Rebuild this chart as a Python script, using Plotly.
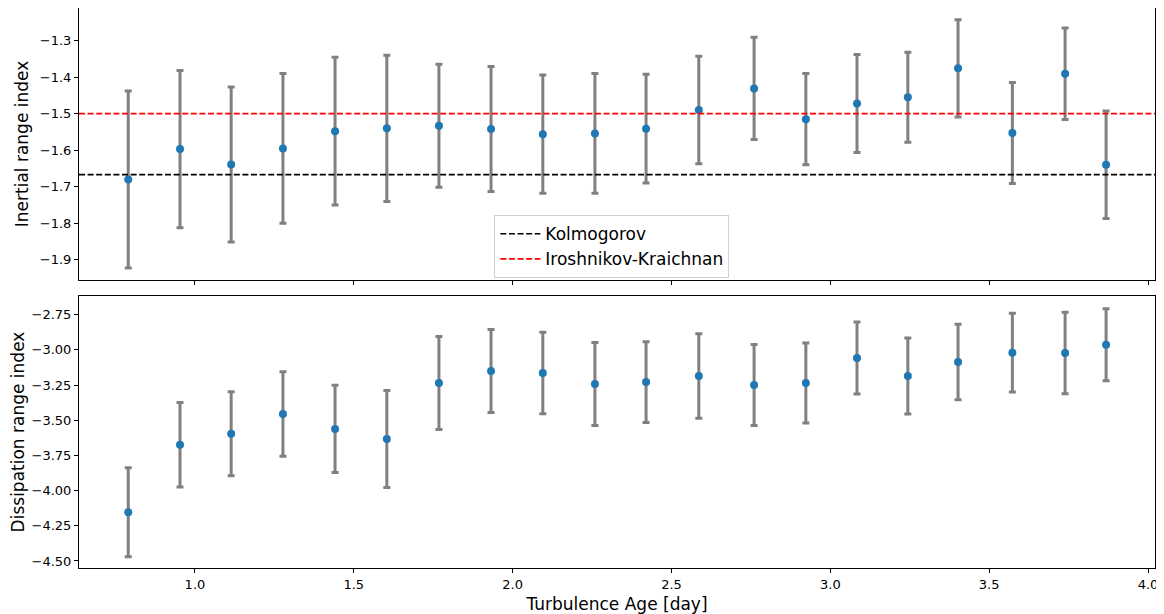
import plotly.graph_objects as go
from plotly.subplots import make_subplots

# Turbulence age [day]
age = [0.790, 0.953, 1.114, 1.277, 1.441, 1.604, 1.768, 1.932, 2.095, 2.259,
       2.420, 2.586, 2.760, 2.923, 3.084, 3.244, 3.402, 3.573, 3.739, 3.868]

# Inertial range spectral index and its uncertainty
inertial = [-1.680, -1.597, -1.639, -1.595, -1.548, -1.540, -1.533, -1.542, -1.556, -1.554,
            -1.541, -1.490, -1.431, -1.515, -1.472, -1.455, -1.376, -1.553, -1.391, -1.640]
inertial_err = [0.242, 0.215, 0.212, 0.205, 0.202, 0.200, 0.168, 0.171, 0.162, 0.164,
                0.149, 0.147, 0.140, 0.125, 0.134, 0.123, 0.133, 0.138, 0.125, 0.147]

# Dissipation range spectral index and its uncertainty
dissipation = [-4.154, -3.674, -3.596, -3.456, -3.562, -3.633, -3.235, -3.150, -3.164, -3.243,
               -3.229, -3.186, -3.250, -3.235, -3.058, -3.186, -3.086, -3.020, -3.022, -2.963]
dissipation_err = [0.316, 0.300, 0.298, 0.300, 0.310, 0.345, 0.330, 0.295, 0.290, 0.295,
                   0.287, 0.300, 0.288, 0.284, 0.256, 0.270, 0.268, 0.280, 0.290, 0.256]

# Reference spectral indices
kolmogorov = -5.0 / 3.0
iroshnikov_kraichnan = -1.5

x_ticks = [1.0, 1.5, 2.0, 2.5, 3.0, 3.5, 4.0]

FONT = "DejaVu Sans"
POINT_COLOR = "#1f77b4"
ERR_COLOR = "#808080"

fig = make_subplots(rows=2, cols=1, shared_xaxes=True)

fig.add_trace(go.Scatter(
    x=age, y=inertial, mode="markers",
    marker=dict(color=POINT_COLOR, size=8),
    error_y=dict(type="data", array=inertial_err, visible=True,
                 color=ERR_COLOR, thickness=3, width=3.5),
    showlegend=False), row=1, col=1)

fig.add_trace(go.Scatter(
    x=age, y=dissipation, mode="markers",
    marker=dict(color=POINT_COLOR, size=8),
    error_y=dict(type="data", array=dissipation_err, visible=True,
                 color=ERR_COLOR, thickness=3, width=3.5),
    showlegend=False), row=2, col=1)

fig.add_hline(y=kolmogorov, row=1, col=1,
              line=dict(color="black", width=1.6, dash="6px,2.6px"),
              showlegend=True, name="Kolmogorov", legendrank=1)
fig.add_hline(y=iroshnikov_kraichnan, row=1, col=1,
              line=dict(color="red", width=1.6, dash="6px,2.6px"),
              showlegend=True, name="Iroshnikov-Kraichnan", legendrank=2)

axis_common = dict(showline=True, linecolor="black", linewidth=1, mirror=True,
                   ticks="outside", ticklen=4, tickcolor="black", tickwidth=1,
                   showgrid=False, zeroline=False, automargin=False,
                   tickfont=dict(family=FONT, size=13, color="black"))

fig.update_xaxes(range=[0.635, 4.022], tickvals=x_ticks, tickformat=".1f", **axis_common)
fig.update_xaxes(showticklabels=False, row=1, col=1)
fig.update_xaxes(title=dict(text="Turbulence Age [day]", standoff=10,
                            font=dict(family=FONT, size=17, color="black")),
                 row=2, col=1)

fig.update_yaxes(range=[-1.955, -1.211], dtick=0.1, tick0=-1.3, tickformat=".1f",
                 title=dict(text="Inertial range index", standoff=6,
                            font=dict(family=FONT, size=17, color="black")),
                 row=1, col=1, **axis_common)
fig.update_yaxes(range=[-4.55, -2.617], dtick=0.25, tick0=-2.75, tickformat=".2f",
                 title=dict(text="Dissipation range index", standoff=6,
                            font=dict(family=FONT, size=17, color="black")),
                 row=2, col=1, **axis_common)

# The page places the figure 8px in from the top-left corner, so the figure is
# sized and margined to land the plot areas where the reference has them.
fig.update_layout(
    width=1156, height=606,
    margin=dict(l=71, r=9, t=0, b=46, autoexpand=False),
    paper_bgcolor="white", plot_bgcolor="white",
    font=dict(family=FONT, color="black"),
    xaxis=dict(domain=[0, 1]),
    yaxis=dict(domain=[0.5143, 1.0]),
    yaxis2=dict(domain=[0.0, 0.4857]),
    legend=dict(x=0.386, y=0.63, xanchor="left", yanchor="top",
                bgcolor="white", bordercolor="#d0d0d0", borderwidth=1,
                font=dict(family=FONT, size=17, color="black"),
                itemwidth=40, tracegroupgap=0),
)

fig.write_html("out.html")
